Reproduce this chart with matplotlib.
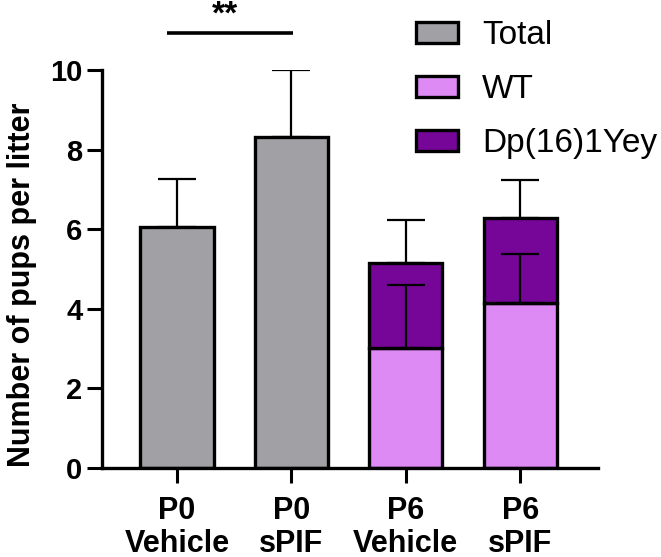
import numpy as np
import matplotlib
matplotlib.use('Agg')
import matplotlib.pyplot as plt
from matplotlib.patches import Patch

plt.rcParams['font.family'] = ['Liberation Sans', 'DejaVu Sans']

# datos
groups = ['P0\nVehicle', 'P0\nsPIF', 'P6\nVehicle', 'P6\nsPIF']
total_mean = [6.05, 8.32]
total_err = [1.20, 1.68]
wt_mean = [3.02, 4.15]
wt_err = [1.58, 1.23]
p6_total_mean = [5.15, 6.28]
p6_total_err = [1.07, 0.96]

c_total = '#a1a0a5'
c_wt = '#dd8af5'
c_dp = '#760698'

fig = plt.figure(figsize=(6.61, 5.57), dpi=100)
ax = fig.add_axes([102 / 661, (557 - 468) / 557, (598 - 102) / 661, (468 - 70) / 557])

x = np.arange(len(groups))
w = 0.64
lw = 2.4

# barras totales P0
ax.bar(x[:2], total_mean, width=w, color=c_total, edgecolor='black', linewidth=lw, zorder=2)
# barras apiladas P6
dp_height = np.array(p6_total_mean) - np.array(wt_mean)
ax.bar(x[2:], wt_mean, width=w, color=c_wt, edgecolor='black', linewidth=lw, zorder=2)
ax.bar(x[2:], dp_height, bottom=wt_mean, width=w, color=c_dp, edgecolor='black', linewidth=lw, zorder=2)

# barras de error (solo hacia arriba)
def up_err(xs, ys, es):
    ax.errorbar(xs, ys, yerr=[np.zeros(len(es)), es], fmt='none', ecolor='black',
                elinewidth=1.6, capsize=13.7, capthick=1.6, zorder=3)

up_err(x[:2], total_mean, total_err)
up_err(x[2:], wt_mean, wt_err)
up_err(x[2:], p6_total_mean, p6_total_err)

ax.set_xlim(-0.656, 3.68)
ax.set_ylim(0, 10)
ax.set_yticks([0, 2, 4, 6, 8, 10])
ax.set_xticks(x)
ax.set_xticklabels(groups, fontsize=22, fontweight='bold', linespacing=1.12)
for t in ax.get_yticklabels():
    t.set_fontsize(21)
    t.set_fontweight('bold')
ax.tick_params(axis='both', width=2.2, length=11, direction='out')
ax.tick_params(axis='y', pad=3)
ax.tick_params(axis='x', pad=9)
for s in ['top', 'right']:
    ax.spines[s].set_visible(False)
for s in ['left', 'bottom']:
    ax.spines[s].set_linewidth(2.4)
ax.set_ylabel('Number of pups per litter', fontsize=22, fontweight='bold')
ax.yaxis.set_label_coords(-0.132, 0.46)

# significancia
ax.plot([x[0] - 0.09, x[1] + 0.01], [10.93, 10.93], color='black', lw=2.6,
        clip_on=False, solid_capstyle='butt')
ax.text((x[0] + x[1]) / 2 - 0.08, 10.98, '**', ha='center', va='bottom',
        fontsize=24, fontweight='bold', clip_on=False)

handles = [Patch(facecolor=c, edgecolor='black', linewidth=2.4) for c in (c_total, c_wt, c_dp)]
fig.legend(handles, ['Total', 'WT', 'Dp(16)1Yey'], loc='upper left',
           bbox_to_anchor=(416 / 661, 1 - 20 / 557), frameon=False, fontsize=24,
           handlelength=1.26, handleheight=0.6, handletextpad=0.72,
           labelspacing=0.69, borderpad=0, borderaxespad=0)

plt.savefig('out.png', dpi=100)
